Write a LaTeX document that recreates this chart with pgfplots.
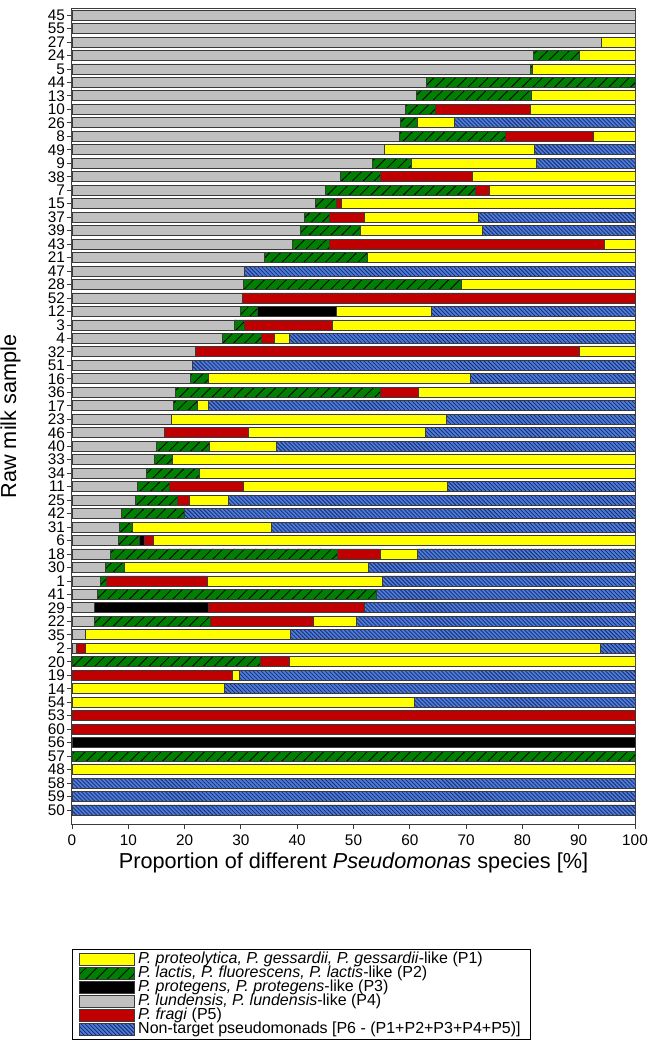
\documentclass[border=0pt]{standalone}
\usepackage{fontspec}
\setmainfont{Liberation Sans}
\usepackage{pgfplots}
\pgfplotsset{compat=1.18}
\usepackage{pgfplotstable}
\usetikzlibrary{patterns.meta}
\definecolor{pyellow}{HTML}{FFFF00}
\definecolor{pgreen}{HTML}{008000}
\definecolor{pgrey}{HTML}{C0C0C0}
\definecolor{pred}{HTML}{C00000}
\definecolor{pblue}{HTML}{4A7BE0}
\definecolor{pnavy}{HTML}{1C2A5C}
\definecolor{edge}{HTML}{3A3A3A}

% y: row position (59 = top), segments in stacking order P4 P2 P3 P5 P1 P6
\pgfplotstableread{
y  P4   P2   P3   P5   P1   P6
59 100  0    0    0    0    0
58 100  0    0    0    0    0
57 94.0 0    0    0    6.0  0
56 82.0 8.2  0    0    9.8  0
55 81.4 0.4  0    0    18.2 0
54 62.9 37.1 0    0    0    0
53 61.1 20.5 0    0    18.4 0
52 59.3 5.2  0    17.0 18.5 0
51 58.3 3.1  0    0    6.5  32.1
50 58.2 18.7 0    15.8 7.3  0
49 55.5 0    0    0    26.6 17.9
48 53.4 6.8  0    0    22.3 17.5
47 47.6 7.1  0    16.5 28.8 0
46 45.1 26.6 0    2.4  25.9 0
45 43.3 3.6  0    1.0  52.1 0
44 41.2 4.5  0    6.2  20.3 27.8
43 40.6 10.7 0    0    21.6 27.1
42 39.2 6.6  0    48.7 5.5  0
41 34.1 18.3 0    0    47.6 0
40 30.7 0    0    0    0    69.3
39 30.4 38.7 0    0    30.9 0
38 30.2 0    0    69.8 0    0
37 29.9 3.1  13.9 0    17.0 36.1
36 28.9 1.7  0    15.7 53.7 0
35 26.8 6.9  0    2.3  2.7  61.3
34 22.0 0    0    68.1 9.9  0
33 21.4 0    0    0    0    78.6
32 21.1 3.1  0    0    46.5 29.3
31 18.3 36.4 0    6.9  38.4 0
30 18.0 4.3  0    0    1.9  75.8
29 17.7 0    0    0    48.8 33.5
28 16.4 0    0    14.9 31.4 37.3
27 15.0 9.4  0    0    11.9 63.7
26 14.6 3.3  0    0    82.1 0
25 13.2 9.5  0    0    77.3 0
24 11.7 5.6  0    13.2 36.2 33.3
23 11.3 7.5  0    2.0  7.0  72.2
22 8.7  11.2 0    0    0    80.1
21 8.4  2.3  0    0    24.7 64.6
20 8.3  3.6  0.9  1.7  85.5 0
19 6.8  40.4 0    7.6  6.5  38.7
18 5.9  3.4  0    0    43.3 47.4
17 5.1  1.0  0    17.9 31.2 44.8
16 4.6  49.4 0    0    0    46.0
15 4.0  0    20.2 27.8 0    48.0
14 4.0  20.6 0    18.2 7.7  49.5
13 2.3  0    0    0    36.5 61.2
12 0.8  0    0    1.5  91.5 6.2
11 0    33.4 0    5.2  61.4 0
10 0    0    0    28.5 1.3  70.2
9  0    0    0    0    27.0 73.0
8  0    0    0    0    60.8 39.2
7  0    0    0    100  0    0
6  0    0    0    100  0    0
5  0    0    100  0    0    0
4  0    100  0    0    0    0
3  0    0    0    0    100  0
2  0    0    0    0    0    100
1  0    0    0    0    0    100
0  0    0    0    0    0    100
}\milk

\pgfplotsset{
  p1/.style={fill=pyellow, draw=edge, line width=0.5pt},
  p2/.style={fill=pgreen, draw=edge, line width=0.5pt,
    postaction={pattern={Lines[angle=45,distance=4.6pt,line width=0.5pt]}, pattern color=black}},
  p3/.style={fill=black, draw=edge, line width=0.5pt},
  p4/.style={fill=pgrey, draw=edge, line width=0.5pt},
  p5/.style={fill=pred, draw=edge, line width=0.5pt},
  p6/.style={fill=pblue, draw=edge, line width=0.5pt,
    postaction={pattern={Lines[angle=-45,distance=1.7pt,line width=0.45pt]}, pattern color=pnavy}},
}

\begin{document}
\begin{tikzpicture}
\begin{axis}[
  name=ax,
  scale only axis,
  width=337.8pt,
  height=489pt,
  xbar stacked,
  bar width=6pt,
  xmin=0, xmax=100,
  ymin=-1.04, ymax=59.45,
  xtick={0,10,...,100},
  ytick={0,...,59},
  yticklabels={50,59,58,48,57,56,60,53,54,14,19,20,2,35,22,29,41,1,30,18,6,31,42,25,11,34,33,40,46,23,17,36,16,51,32,4,3,12,52,28,47,21,43,39,37,15,7,38,9,49,8,26,10,13,44,5,24,27,55,45},
  tick align=outside,
  xtick pos=bottom,
  ytick pos=left,
  major tick length=3pt,
  tick style={draw=edge, line width=0.5pt},
  axis line style={draw=edge, line width=0.6pt},
  ticklabel style={font=\fontsize{9.2}{10}\selectfont},
  yticklabel style={inner xsep=1pt},
  /pgf/number format/assume math mode=true,
  xlabel={Proportion of different \textit{Pseudomonas} species [\%]},
  ylabel={Raw milk sample},
  every axis x label/.style={at={(axis description cs:0.5,-0.048)}, anchor=center, font=\fontsize{13}{15}\selectfont},
  every axis y label/.style={at={(axis description cs:-0.109,0.5)}, rotate=90, anchor=center, font=\fontsize{13}{15}\selectfont},
  legend style={at={(axis description cs:0,-0.153)}, anchor=north west, draw=black, line width=0.5pt,
    font=\fontsize{9.6}{10}\selectfont, cells={anchor=west}, row sep=0pt, inner xsep=4pt, inner ysep=2pt,
    nodes={inner ysep=0pt, inner xsep=2pt, text height=6.6pt, text depth=1.8pt}},
  legend image code/.code={\draw[#1] (0pt,-3.6pt) rectangle (33pt,3.6pt);},
]
\addlegendimage{p1}
\addlegendimage{p2}
\addlegendimage{p3}
\addlegendimage{p4}
\addlegendimage{p5}
\addlegendimage{p6}
\addplot[p4] table[x=P4, y=y] {\milk};
\addplot[p2] table[x=P2, y=y] {\milk};
\addplot[p3] table[x=P3, y=y] {\milk};
\addplot[p5] table[x=P5, y=y] {\milk};
\addplot[p1] table[x=P1, y=y] {\milk};
\addplot[p6] table[x=P6, y=y] {\milk};
\legend{
  \textit{P. proteolytica, P. gessardii, P. gessardii}-like (P1),
  \textit{P. lactis, P. fluorescens, P. lactis}-like (P2),
  \textit{P. protegens, P. protegens}-like (P3),
  \textit{P. lundensis, P. lundensis}-like (P4),
  \textit{P. fragi} (P5),
  Non-target pseudomonads [P6 - (P1+P2+P3+P4+P5)]
}
\end{axis}
\pgfresetboundingbox
\path ([shift={(-43.2pt,-131.4pt)}]ax.south west) rectangle ([shift={(8.4pt,5.4pt)}]ax.north east);
\end{tikzpicture}
\end{document}
